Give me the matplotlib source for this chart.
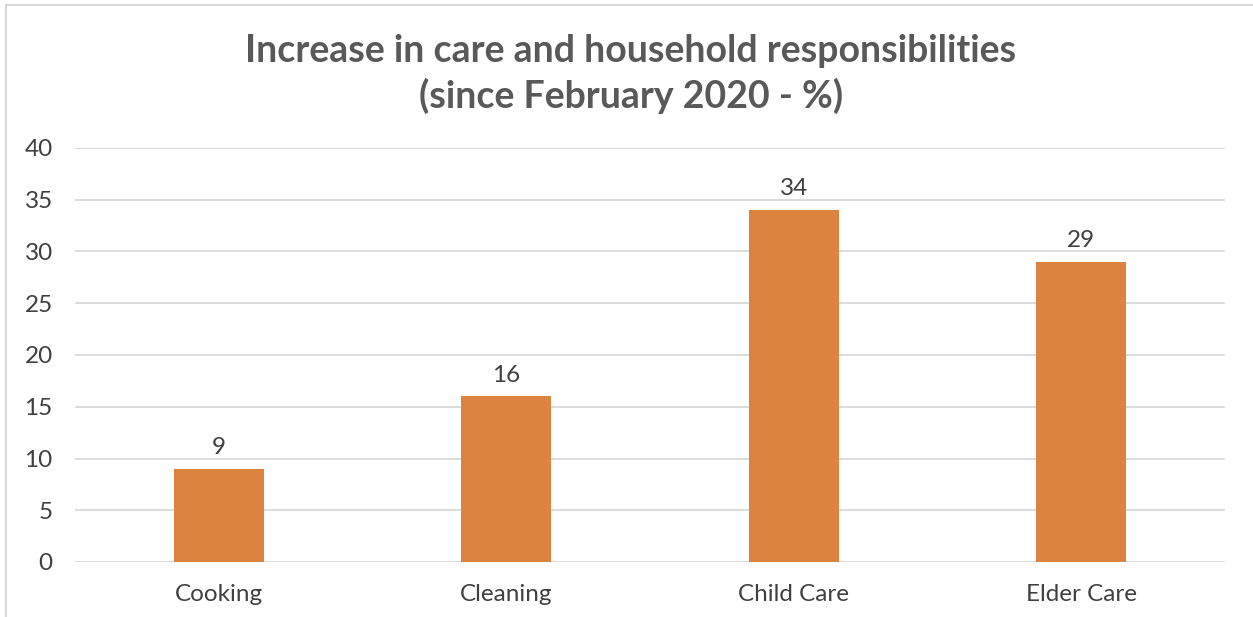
import matplotlib.pyplot as plt
from matplotlib.patches import Rectangle

categories = ["Cooking", "Cleaning", "Child Care", "Elder Care"]
values = [9, 16, 34, 29]
y_ticks = [0, 5, 10, 15, 20, 25, 30, 35, 40]

plt.rcParams["font.family"] = ["Lato", "DejaVu Sans"]

fig = plt.figure(figsize=(12.53, 6.17), dpi=100)
W, H = 1253, 617

# light chart-area border (extends past right and bottom edges)
fig.patches.append(Rectangle((6 / W, -0.1), 1.2, 1.1 - 5 / H, transform=fig.transFigure,
                             fill=False, edgecolor="#D9D9D9", linewidth=1.5))

ax = fig.add_axes([75 / W, 1 - 562 / H, (1225 - 75) / W, (562 - 148) / H])

x = range(len(categories))
bars = ax.bar(x, values, width=0.313, color="#DC843F", zorder=3)
for xi, v in zip(x, values):
    ax.text(xi, v + 1.05, str(v), ha="center", va="bottom", fontsize=17.5, color="#404040")

ax.set_xlim(-0.5, len(categories) - 0.5)
ax.set_ylim(0, 40)
ax.set_yticks(y_ticks)
ax.set_xticks(list(x))
ax.set_xticklabels(categories)
ax.grid(axis="y", color="#D9D9D9", linewidth=1.3, zorder=0)
for s in ax.spines.values():
    s.set_visible(False)
ax.tick_params(length=0, labelsize=17.5, colors="#404040")
ax.tick_params(axis="y", pad=16)
ax.tick_params(axis="x", pad=16)

fig.text(631 / W, 1 - 74 / H, "Increase in care and household responsibilities\n(since February 2020 - %)",
         ha="center", va="center", fontsize=27, fontweight="bold", color="#595959",
         linespacing=1.32)

fig.savefig("out.png", dpi=100)
